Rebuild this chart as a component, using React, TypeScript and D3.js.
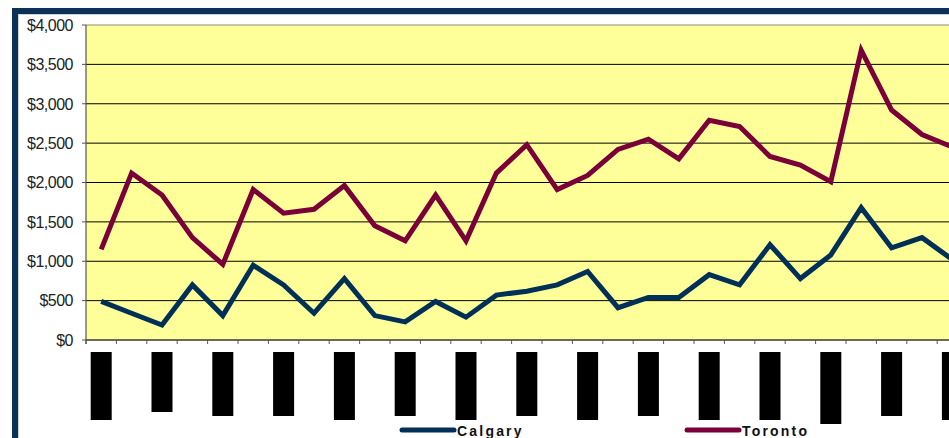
import React from "react";
import * as d3 from "d3";

const categories = [
  "Period 01", "Period 02", "Period 03", "Period 04", "Period 05", "Period 06",
  "Period 07", "Period 08", "Period 09", "Period 10", "Period 11", "Period 12",
  "Period 13", "Period 14", "Period 15", "Period 16", "Period 17", "Period 18",
  "Period 19", "Period 20", "Period 21", "Period 22", "Period 23", "Period 24",
  "Period 25", "Period 26", "Period 27", "Period 28", "Period 29",
];

// label text lengths drive the height of the (illegible) dense label blocks
const axisLabels = [
  "xxxxxxxxxxx", "xxxxxxxxx", "xxxxxxxxxx", "xxxxxxxxxx", "xxxxxxxxxxx",
  "xxxxxxxxxx", "xxxxxxxxxxx", "xxxxxxxxxx", "xxxxxxxxxxx", "xxxxxxxxxx",
  "xxxxxxxxxxx", "xxxxxxxxxxx", "xxxxxxxxxxxx", "xxxxxxxxxx", "xxxxxxxxxxx",
];

const calgary = [
  490, 340, 190, 700, 310, 950, 700, 340, 780, 310, 230, 490, 290, 570, 620,
  700, 870, 410, 540, 540, 830, 700, 1210, 780, 1080, 1680, 1170, 1300, 1020,
];

const toronto = [
  1150, 2120, 1840, 1300, 960, 1910, 1610, 1660, 1960, 1450, 1260, 1840, 1260,
  2120, 2480, 1910, 2090, 2420, 2550, 2300, 2790, 2710, 2330, 2220, 2010, 3680,
  2920, 2610, 2450,
];

const yTicks = [0, 500, 1000, 1500, 2000, 2500, 3000, 3500, 4000];

const seriesNames = ["Calgary", "Toronto"];
const seriesColors = ["#003057", "#7a0039"];

export default function App() {
  const W = 949;
  const H = 438;
  const left = 86;
  const top = 25;
  const bottom = 340;
  const band = 30.4;
  const right = left + band * categories.length;

  const x = d3
    .scalePoint<string>()
    .domain(categories)
    .range([left + band / 2, right - band / 2]);
  const y = d3.scaleLinear().domain([0, 4000]).range([bottom, top]);

  const line = d3
    .line<number>()
    .x((_, i) => x(categories[i]) as number)
    .y((d) => y(d));

  const fmt = (v: number) => "$" + d3.format(",")(v);
  const font = "'Liberation Sans', Arial, sans-serif";

  return (
    <svg
      width={W}
      height={H}
      style={{ position: "absolute", left: 0, top: 0, background: "#fff" }}
    >
      {/* outer frame */}
      <rect x={15} y={11} width={W + 20} height={H + 20} fill="none" stroke="#0b3157" strokeWidth={6} />
      <rect x={18.5} y={14.5} width={W} height={H} fill="none" stroke="#c9d3e0" strokeWidth={1} />

      {/* plot area */}
      <rect x={left} y={top} width={right - left} height={bottom - top} fill="#ffff99" />
      {yTicks.map((t) => (
        <line
          key={"g" + t}
          x1={left}
          x2={right}
          y1={y(t)}
          y2={y(t)}
          stroke={t === 4000 ? "#8a8a8a" : "#000"}
          strokeWidth={1}
        />
      ))}
      <line x1={left} x2={left} y1={top} y2={bottom + 4} stroke="#555" strokeWidth={1.2} />
      <line x1={left} x2={right} y1={bottom} y2={bottom} stroke="#555" strokeWidth={1.2} />

      {/* y axis */}
      {yTicks.map((t) => (
        <g key={"y" + t}>
          <line x1={left - 4} x2={left} y1={y(t)} y2={y(t)} stroke="#555" />
          <text
            x={left - 13}
            y={y(t)}
            dy="0.36em"
            textAnchor="end"
            fontFamily={font}
            fontSize={16}
            letterSpacing={-0.5}
            fill="#222"
          >
            {fmt(t)}
          </text>
        </g>
      ))}

      {/* x ticks */}
      {d3.range(categories.length + 1).map((i) => (
        <line
          key={"xt" + i}
          x1={left + i * band}
          x2={left + i * band}
          y1={bottom}
          y2={bottom + 4}
          stroke="#555"
        />
      ))}

      {/* dense category labels rendered as solid blocks */}
      {axisLabels.map((lab, k) => {
        const cx = x(categories[k * 2]) as number;
        return (
          <rect
            key={"lb" + k}
            x={cx - 10.5}
            y={352}
            width={21}
            height={lab.length * 4 + 24}
            fill="#000"
          >
            <title>{categories[k * 2]}</title>
          </rect>
        );
      })}

      {/* series */}
      {[calgary, toronto].map((s, i) => (
        <path
          key={"s" + i}
          d={line(s) as string}
          fill="none"
          stroke={seriesColors[i]}
          strokeWidth={5}
          strokeLinejoin="miter"
          strokeLinecap="butt"
        />
      ))}

      {/* legend */}
      {seriesNames.map((n, i) => {
        const lx = i === 0 ? 402 : 687;
        return (
          <g key={"lg" + i}>
            <line
              x1={lx}
              x2={lx + 52}
              y1={430}
              y2={430}
              stroke={seriesColors[i]}
              strokeWidth={5}
              strokeLinecap="round"
            />
            <text
              x={lx + 55}
              y={436}
              fontFamily={font}
              fontSize={14}
              fontWeight="bold"
              letterSpacing={2.2}
              fill="#111"
            >
              {n}
            </text>
          </g>
        );
      })}
    </svg>
  );
}
